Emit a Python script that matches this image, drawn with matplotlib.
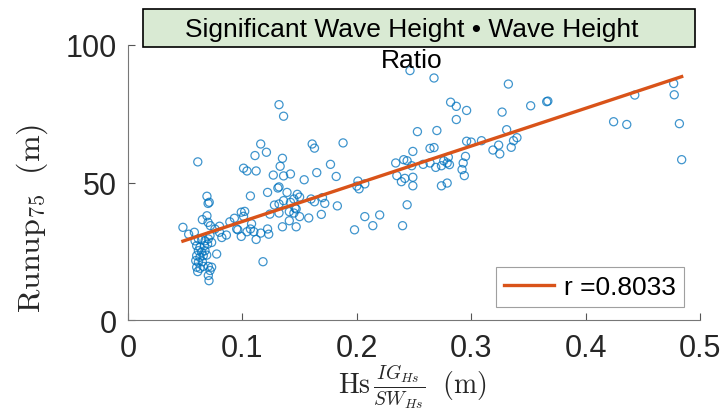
import numpy as np
import matplotlib
matplotlib.use("Agg")
import matplotlib.pyplot as plt
from matplotlib.patches import Rectangle

# Hs * IG/SW ratio (m) et runup 75 (m)
hs_ratio = [
    0.048, 0.053, 0.058, 0.061, 0.065, 0.069, 0.070, 0.072, 0.069, 0.071,
    0.070, 0.076, 0.080, 0.082, 0.086, 0.0775, 0.080, 0.118,
    0.0586, 0.0615, 0.0644, 0.0673, 0.0702, 0.0600, 0.0629, 0.0667, 0.0696, 0.0615,
    0.0644, 0.0673, 0.0600, 0.0629, 0.0658, 0.0688, 0.0592, 0.0615, 0.0650, 0.0600,
    0.0629, 0.0658, 0.0702, 0.0731, 0.0609, 0.0717, 0.0702, 0.0708, 0.0717, 0.0731,
    0.089, 0.093, 0.096, 0.099, 0.095, 0.102, 0.099, 0.101, 0.104, 0.110,
    0.108, 0.107, 0.107, 0.122, 0.124, 0.122, 0.123, 0.116, 0.112,
    0.101, 0.104, 0.112, 0.111, 0.116, 0.121, 0.127,
    0.132, 0.136, 0.135, 0.133, 0.136, 0.142, 0.161, 0.163, 0.165, 0.154,
    0.132, 0.131, 0.139, 0.148, 0.150, 0.145, 0.142, 0.136, 0.132, 0.128,
    0.160, 0.163, 0.170, 0.172, 0.132, 0.141, 0.145, 0.147, 0.150, 0.146,
    0.158, 0.169, 0.135, 0.141, 0.147,
    0.188, 0.177, 0.182, 0.183, 0.201, 0.200, 0.202, 0.207, 0.207, 0.220,
    0.214, 0.198,
    0.2465, 0.2675, 0.282, 0.287, 0.296, 0.287, 0.253, 0.270, 0.249, 0.264,
    0.2675, 0.296, 0.300, 0.234, 0.241, 0.244, 0.248, 0.258, 0.264, 0.269,
    0.276, 0.279, 0.280, 0.274, 0.281, 0.295, 0.293, 0.292, 0.294, 0.235,
    0.239, 0.242, 0.249, 0.249, 0.274, 0.279, 0.244, 0.240,
    0.309, 0.319, 0.324, 0.325, 0.327, 0.3325, 0.352, 0.366, 0.367, 0.331,
    0.335, 0.337, 0.340,
    0.4245, 0.436, 0.443, 0.477, 0.4775, 0.482, 0.484,
]
runup75 = [
    33.7, 31.2, 31.9, 57.5, 36.5, 37.9, 35.5, 34.3, 45.0, 42.8,
    42.4, 33.1, 34.1, 30.0, 30.9, 24.0, 31.9, 21.2,
    28.8, 29.5, 29.2, 28.8, 29.5, 27.0, 26.4, 27.0, 27.6, 25.2,
    24.6, 25.2, 23.4, 22.8, 23.4, 23.6, 21.6, 21.0, 21.2, 19.2,
    18.8, 19.5, 19.5, 19.2, 17.6, 18.0, 16.2, 14.3, 30.7, 28.2,
    35.7, 37.0, 32.8, 30.4, 33.1, 39.5, 39.2, 37.7, 32.1, 32.1,
    35.0, 33.1, 45.1, 46.4, 38.5, 33.1, 31.2, 31.6, 29.3,
    55.2, 54.2, 54.2, 59.8, 64.0, 61.0, 52.7,
    78.3, 74.1, 58.8, 55.9, 52.4, 53.1, 64.0, 62.5, 53.6, 51.0,
    48.4, 48.0, 46.4, 45.7, 44.7, 44.0, 42.8, 43.4, 42.2, 41.8,
    44.0, 43.0, 44.5, 42.4, 38.9, 39.4, 38.9, 40.4, 37.6, 40.7,
    37.1, 38.4, 33.9, 36.1, 33.9,
    64.4, 56.6, 52.2, 41.5, 50.5, 48.7, 47.7, 49.5, 37.6, 38.2,
    34.3, 32.8,
    90.7, 88.0, 79.2, 77.7, 76.2, 72.9, 68.5, 68.9, 61.3, 62.4,
    62.7, 65.0, 64.7, 57.1, 58.3, 57.9, 56.1, 56.6, 57.1, 55.5,
    57.9, 57.1, 59.2, 56.1, 56.5, 59.5, 57.1, 54.7, 52.5, 52.5,
    50.3, 51.5, 51.9, 48.8, 48.8, 49.8, 41.9, 34.3,
    65.2, 61.8, 63.6, 60.4, 75.6, 85.8, 77.9, 79.4, 79.6, 69.2,
    62.8, 65.2, 66.3,
    72.1, 71.1, 81.8, 86.0, 81.9, 71.4, 58.3,
]

# Droite de régression
fit_slope = 137.2
fit_intercept = 22.1
r_value = 0.8033

x_ticks = [0, 0.1, 0.2, 0.3, 0.4, 0.5]
y_ticks = [0, 50, 100]
title_line1 = "Significant Wave Height \u2022 Wave Height"
title_line2 = "Ratio"

plt.rcParams["font.family"] = ["Liberation Sans", "DejaVu Sans"]
plt.rcParams["mathtext.fontset"] = "cm"

fig = plt.figure(figsize=(7.22, 4.14), dpi=100)
ax = fig.add_axes([0.1773, 0.2246, 0.7922, 0.6643])

ax.scatter(hs_ratio, runup75, s=34, facecolors="none", edgecolors="#0072BD",
           linewidths=0.9, alpha=0.75, zorder=2)

x_fit = np.array([min(hs_ratio), max(hs_ratio)])
ax.plot(x_fit, fit_slope * x_fit + fit_intercept, color="#D95319", lw=2.4,
        label=f"r ={r_value:.4f}", zorder=3)

ax.set_xlim(0, 0.5)
ax.set_ylim(0, 100)
ax.set_xticks(x_ticks)
ax.set_xticklabels([f"{t:g}" for t in x_ticks])
ax.set_yticks(y_ticks)
ax.tick_params(direction="in", length=5, width=0.8, colors="#555555",
               labelsize=22, labelcolor="#262626")
ax.tick_params(axis="x", pad=9)
ax.tick_params(axis="y", pad=8)
for side in ["top", "right"]:
    ax.spines[side].set_visible(False)
for side in ["left", "bottom"]:
    ax.spines[side].set_color("#777777")
    ax.spines[side].set_linewidth(0.8)

ax.set_xlabel(r"$\mathrm{Hs}\,\frac{IG_{Hs}}{SW_{Hs}}\ \ \mathrm{(m)}$",
              fontsize=20, color="#262626")
ax.xaxis.label.set_va("center")
ax.xaxis.set_label_coords(0.4965, -0.24)
ax.set_ylabel(r"$\mathrm{Runup}_{75}\ \ \mathrm{(m)}$", fontsize=23,
              color="#262626")
ax.yaxis.label.set_va("center")
ax.yaxis.set_label_coords(-0.168, 0.375)

leg = ax.legend(loc="lower right", fontsize=19, frameon=True, fancybox=False,
                handlelength=1.9, handletextpad=0.4, borderpad=0.3,
                borderaxespad=0, bbox_to_anchor=(0.9725, 0.047))
leg.get_frame().set_edgecolor("#888888")
leg.get_frame().set_linewidth(0.8)

# Encadré du titre
fig.patches.append(Rectangle((143 / 722, 1 - 48 / 414), 552 / 722, 38 / 414,
                             transform=fig.transFigure, facecolor="#d9ead3",
                             edgecolor="black", lw=1.2, zorder=5))
fig.text(412 / 722, 1 - 30 / 414, title_line1, ha="center", va="center",
         fontsize=19, color="black", zorder=6)
fig.text(412 / 722, 1 - 61 / 414, title_line2, ha="center", va="center",
         fontsize=19, color="black", zorder=6)

fig.savefig("out.png", dpi=100)
